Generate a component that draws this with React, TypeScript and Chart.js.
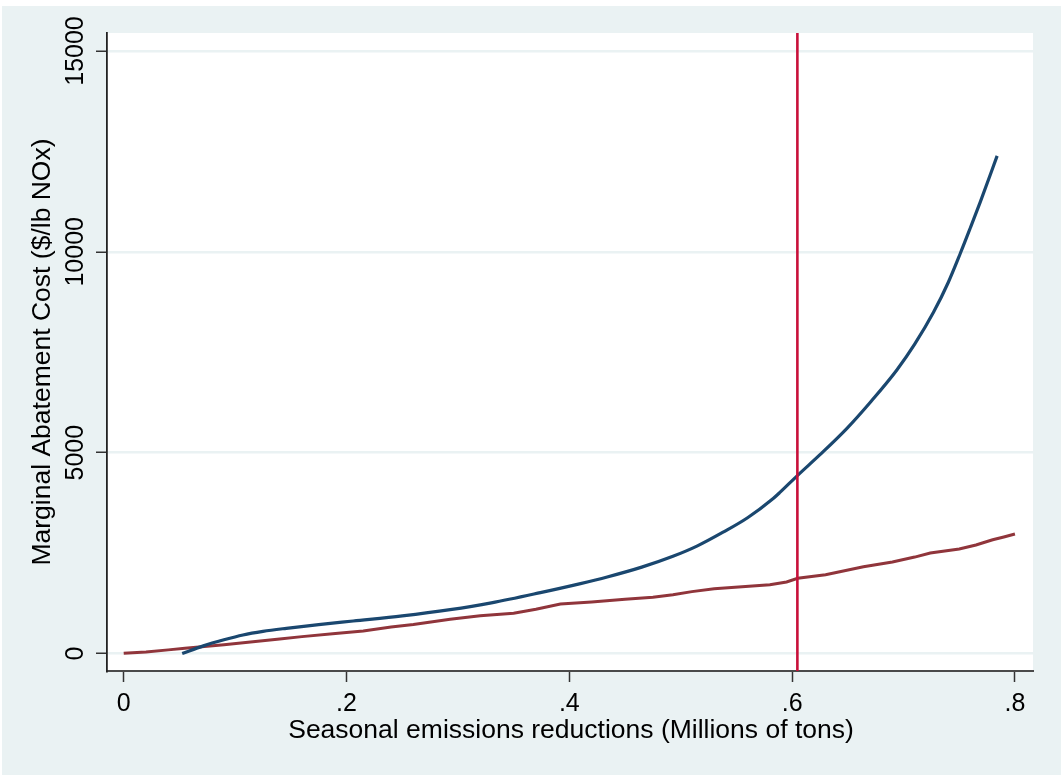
import React, { useEffect, useRef } from "react";
import { Chart, registerables } from "chart.js";

Chart.register(...registerables);

// ---- data ----
const blueX = [0.0525, 0.0715, 0.09, 0.107, 0.125, 0.146, 0.175, 0.206, 0.25, 0.293, 0.33, 0.374, 0.41, 0.434, 0.465, 0.493, 0.515, 0.538, 0.56, 0.583, 0.589, 0.6047, 0.625, 0.649, 0.67, 0.694, 0.71, 0.727, 0.74, 0.751, 0.76, 0.769, 0.784];
const blueY = [0, 190, 340, 460, 550, 627, 720, 809, 935, 1090, 1260, 1515, 1740, 1905, 2150, 2420, 2680, 3020, 3380, 3860, 4010, 4430, 4950, 5600, 6250, 7059, 7700, 8500, 9230, 9965, 10600, 11250, 12388];

const redX = [0, 0.02, 0.04, 0.055, 0.07, 0.09, 0.116, 0.14, 0.16, 0.19, 0.215, 0.24, 0.26, 0.293, 0.32, 0.35, 0.37, 0.392, 0.42, 0.45, 0.475, 0.493, 0.51, 0.53, 0.555, 0.58, 0.595, 0.605, 0.63, 0.664, 0.69, 0.71, 0.724, 0.75, 0.765, 0.78, 0.79, 0.8];
const redY = [5, 40, 90, 130, 170, 220, 290, 360, 420, 500, 560, 660, 720, 850, 940, 1000, 1100, 1230, 1280, 1350, 1400, 1460, 1540, 1610, 1660, 1710, 1780, 1872, 1960, 2160, 2280, 2400, 2500, 2600, 2700, 2830, 2900, 2976];

const vLineX = 0.6047;

const xTickValues = [0, 0.2, 0.4, 0.6, 0.8];
const xTickLabels = ["0", ".2", ".4", ".6", ".8"];
const yTickValues = [0, 5000, 10000, 15000];
const yTickLabels = ["0", "5000", "10000", "15000"];

const xTitle = "Seasonal emissions reductions (Millions of tons)";
const yTitle = "Marginal Abatement Cost ($/lb NOx)";

const X_MIN = -0.015;
const X_MAX = 0.8162;
const Y_MIN = -436;
const Y_MAX = 15448;

const FONT = '"Liberation Sans", Arial, Helvetica, sans-serif';

export default function App() {
  const ref = useRef<HTMLCanvasElement | null>(null);

  useEffect(() => {
    const canvas = ref.current;
    if (!canvas) return;

    const bgPlugin = {
      id: "bgPlugin",
      beforeDraw(chart: any) {
        const ctx = chart.ctx;
        const ca = chart.chartArea;
        ctx.save();
        ctx.fillStyle = "#ffffff";
        ctx.fillRect(0, 0, chart.width, chart.height);
        ctx.fillStyle = "#EAF2F3";
        ctx.fillRect(2, 6, chart.width - 2, 769);
        ctx.fillStyle = "#ffffff";
        ctx.fillRect(ca.left, ca.top, ca.right - ca.left, ca.bottom - ca.top);
        ctx.restore();
      },
    };

    const vLinePlugin = {
      id: "vLinePlugin",
      afterDatasetsDraw(chart: any) {
        const ctx = chart.ctx;
        const ca = chart.chartArea;
        const px = chart.scales.x.getPixelForValue(vLineX);
        ctx.save();
        ctx.strokeStyle = "#C8103A";
        ctx.lineWidth = 2.6;
        ctx.beginPath();
        ctx.moveTo(px, ca.top);
        ctx.lineTo(px, ca.bottom);
        ctx.stroke();
        ctx.restore();
      },
    };

    const textPlugin = {
      id: "textPlugin",
      afterDraw(chart: any) {
        const ctx = chart.ctx;
        const xs = chart.scales.x;
        const ys = chart.scales.y;
        const ca = chart.chartArea;
        ctx.save();
        ctx.fillStyle = "#000000";
        ctx.font = `25px ${FONT}`;
        ctx.textAlign = "center";
        ctx.textBaseline = "alphabetic";
        xTickValues.forEach((v, i) => {
          ctx.fillText(xTickLabels[i], xs.getPixelForValue(v), 711);
        });
        yTickValues.forEach((v, i) => {
          ctx.save();
          ctx.translate(83, ys.getPixelForValue(v));
          ctx.rotate(-Math.PI / 2);
          ctx.fillText(yTickLabels[i], 0, 0);
          ctx.restore();
        });
        ctx.font = `26.5px ${FONT}`;
        ctx.fillText(xTitle, (ca.left + ca.right) / 2 + 1, 738);
        ctx.save();
        ctx.translate(50, (ca.top + ca.bottom) / 2);
        ctx.rotate(-Math.PI / 2);
        ctx.fillText(yTitle, 0, 0);
        ctx.restore();
        ctx.restore();
      },
    };

    const chart = new Chart(canvas, {
      type: "line",
      data: {
        datasets: [
          {
            label: "blue",
            data: blueX.map((x, i) => ({ x, y: blueY[i] })),
            borderColor: "#1a476f",
            borderWidth: 3.2,
            pointRadius: 0,
            cubicInterpolationMode: "monotone",
            fill: false,
          },
          {
            label: "red",
            data: redX.map((x, i) => ({ x, y: redY[i] })),
            borderColor: "#90353b",
            borderWidth: 3,
            pointRadius: 0,
            tension: 0,
            fill: false,
          },
        ],
      },
      options: {
        animation: false,
        responsive: false,
        maintainAspectRatio: false,
        devicePixelRatio: 1,
        layout: { padding: { left: 0, top: 33, right: 28, bottom: 0 } },
        plugins: {
          legend: { display: false },
          title: { display: false },
          tooltip: { enabled: false },
        },
        scales: {
          x: {
            type: "linear",
            min: X_MIN,
            max: X_MAX,
            afterBuildTicks(scale: any) {
              scale.ticks = xTickValues.map((v) => ({ value: v }));
            },
            afterFit(scale: any) {
              scale.height = 111;
            },
            ticks: { display: false },
            grid: {
              drawOnChartArea: false,
              drawTicks: true,
              tickLength: 11,
              tickColor: "#333333",
              tickWidth: 1.5,
            },
            border: { display: true, color: "#4a4a4a", width: 2 },
          },
          y: {
            type: "linear",
            min: Y_MIN,
            max: Y_MAX,
            afterBuildTicks(scale: any) {
              scale.ticks = yTickValues.map((v) => ({ value: v }));
            },
            afterFit(scale: any) {
              scale.width = 107;
            },
            ticks: { display: false },
            grid: {
              color: "#EAF2F3",
              lineWidth: 2.5,
              drawTicks: true,
              tickLength: 11,
              tickColor: "#333333",
              tickWidth: 1.5,
            },
            border: { display: true, color: "#222222", width: 1.8 },
          },
        },
      },
      plugins: [bgPlugin, vLinePlugin, textPlugin],
    } as any);

    return () => {
      chart.destroy();
    };
  }, []);

  return (
    <div style={{ position: "fixed", left: 0, top: 0, width: 1061, height: 782, background: "#fff" }}>
      <canvas ref={ref} width={1061} height={782} style={{ width: 1061, height: 782, display: "block" }} />
    </div>
  );
}
